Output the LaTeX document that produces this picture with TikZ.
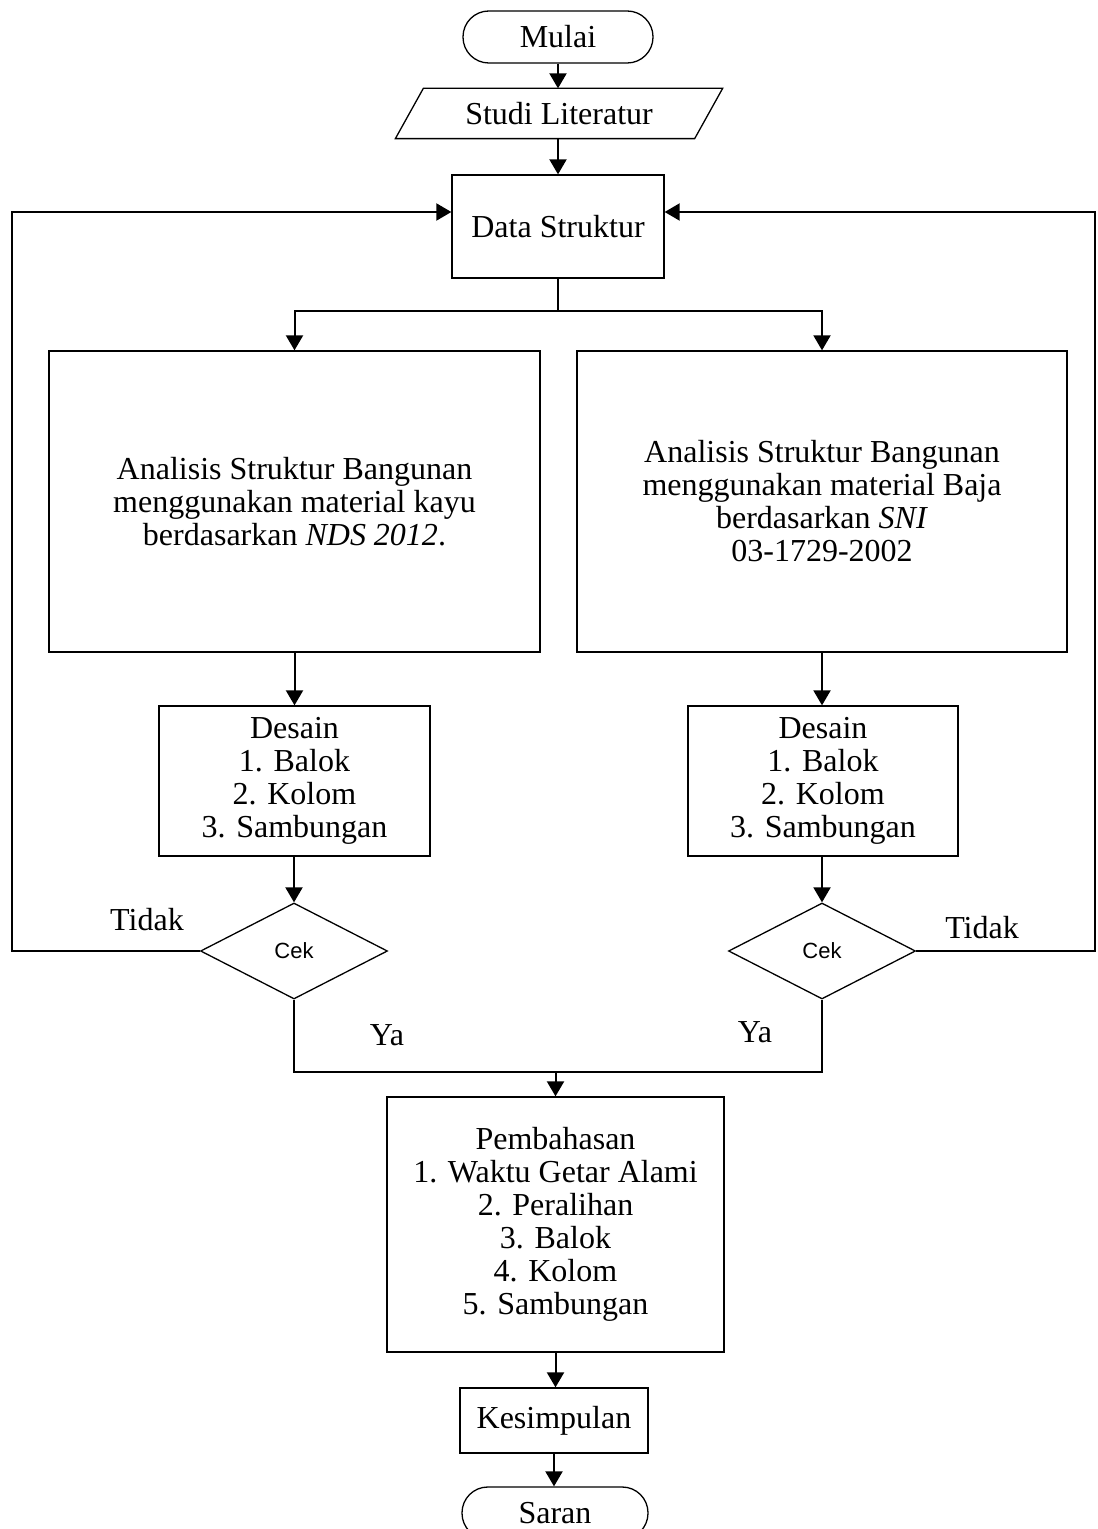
\documentclass[tikz,border=0pt]{standalone}
\usepackage{fontspec}
\setmainfont{Liberation Serif}
\newfontfamily\cekfont{Liberation Sans}
\usetikzlibrary{arrows.meta,shapes.geometric}
\tikzset{
  box/.style={draw, line width=0.65pt, align=center, inner sep=2pt,
    font=\fontsize{16}{16.5}\selectfont},
  term/.style={box, rounded corners=12.9pt},
  cekbox/.style={diamond, draw, line width=0.65pt, inner sep=0pt, shape aspect=2,
    font=\cekfont\fontsize{11}{12}\selectfont},
  lbl/.style={font=\fontsize{16}{16.5}\selectfont, inner sep=0pt},
  conn/.style={line width=1pt},
  arr/.style={conn, -{Triangle[length=7.5pt,width=8.5pt]}},
}
\begin{document}
\begin{tikzpicture}[x=0.5pt,y=-0.5pt]
\useasboundingbox (0,0) rectangle (1097,1529);
\clip (0,0) rectangle (1097,1529);
% nodes
\node[term, minimum width=190*0.5pt, minimum height=52*0.5pt] (mulai) at (558,37) {Mulai};
\node[box, draw=none, minimum width=298*0.5pt, minimum height=49*0.5pt] (studi) at (559,113.5) {Studi Literatur};
\draw[line width=0.65pt] ([xshift=7pt]studi.north west) -- ([xshift=7pt]studi.north east)
  -- ([xshift=-7pt]studi.south east) -- ([xshift=-7pt]studi.south west) -- cycle;
\node[box, minimum width=212*0.5pt, minimum height=103*0.5pt] (data) at (558,226.5) {Data Struktur};
\node[box, minimum width=491*0.5pt, minimum height=301*0.5pt] (kayu) at (294.5,501.5)
  {Analisis Struktur Bangunan\\menggunakan material kayu\\berdasarkan \textit{NDS 2012}.};
\node[box, minimum width=490*0.5pt, minimum height=301*0.5pt] (baja) at (822,501.5)
  {Analisis Struktur Bangunan\\menggunakan material Baja\\berdasarkan \textit{SNI}\\03-1729-2002};
\node[box, minimum width=271*0.5pt, minimum height=150*0.5pt] (desL) at (294.5,781)
  {Desain\\1. Balok\\2. Kolom\\3. Sambungan};
\node[box, minimum width=270*0.5pt, minimum height=150*0.5pt] (desR) at (823,781)
  {Desain\\1. Balok\\2. Kolom\\3. Sambungan};
\node[cekbox, minimum width=187*0.5pt, minimum height=96*0.5pt] (cekL) at (294,951) {Cek};
\node[cekbox, minimum width=187*0.5pt, minimum height=96*0.5pt] (cekR) at (822,951) {Cek};
\node[box, minimum width=337*0.5pt, minimum height=255*0.5pt] (pemb) at (555.5,1224.5)
  {Pembahasan\\1. Waktu Getar Alami\\2. Peralihan\\3. Balok\\4. Kolom\\5. Sambungan};
\node[box, minimum width=188*0.5pt, minimum height=65*0.5pt] (kes) at (554,1420.5) {Kesimpulan};
\node[term, minimum width=186*0.5pt, minimum height=52*0.5pt] (saran) at (555,1513) {Saran};
% labels
\node[lbl] (tidakL) at (147,920) {Tidak};
\node[lbl] (tidakR) at (982,928) {Tidak};
\node[lbl] (yaL) at (387,1035) {Ya};
\node[lbl] (yaR) at (755,1032) {Ya};
% coordinates
\coordinate (inL) at ([yshift=7.25pt]data.west);
\coordinate (inR) at ([yshift=7.25pt]data.east);
\coordinate (lx) at (12,0);
\coordinate (rx) at (1095,0);
\path (data.south) ++(0,32) coordinate (split);
\path (pemb.north) ++(0,-24) coordinate (join);
% connectors
\draw[arr] (mulai.south) -- (mulai.south |- studi.north);
\draw[arr] (studi.south -| data.north) -- (data.north);
\draw[conn] (data.south) -- (split);
\draw[arr] (split) -| (kayu.north);
\draw[arr] (split) -| (baja.north);
\draw[arr] (kayu.south) -- (kayu.south |- desL.north);
\draw[arr] (baja.south) -- (baja.south |- desR.north);
\draw[arr] (desL.south -| cekL.north) -- (cekL.north);
\draw[arr] (desR.south -| cekR.north) -- (cekR.north);
\draw[arr] (cekL.west) -| (lx |- inL) -- (inL);
\draw[arr] (cekR.east) -| (rx |- inR) -- (inR);
\draw[conn] (cekL.south) |- (join) -| (cekR.south);
\draw[arr] (join) -- (pemb.north);
\draw[arr] (pemb.south) -- (pemb.south |- kes.north);
\draw[arr] (kes.south) -- (kes.south |- saran.north);
\end{tikzpicture}
\end{document}
